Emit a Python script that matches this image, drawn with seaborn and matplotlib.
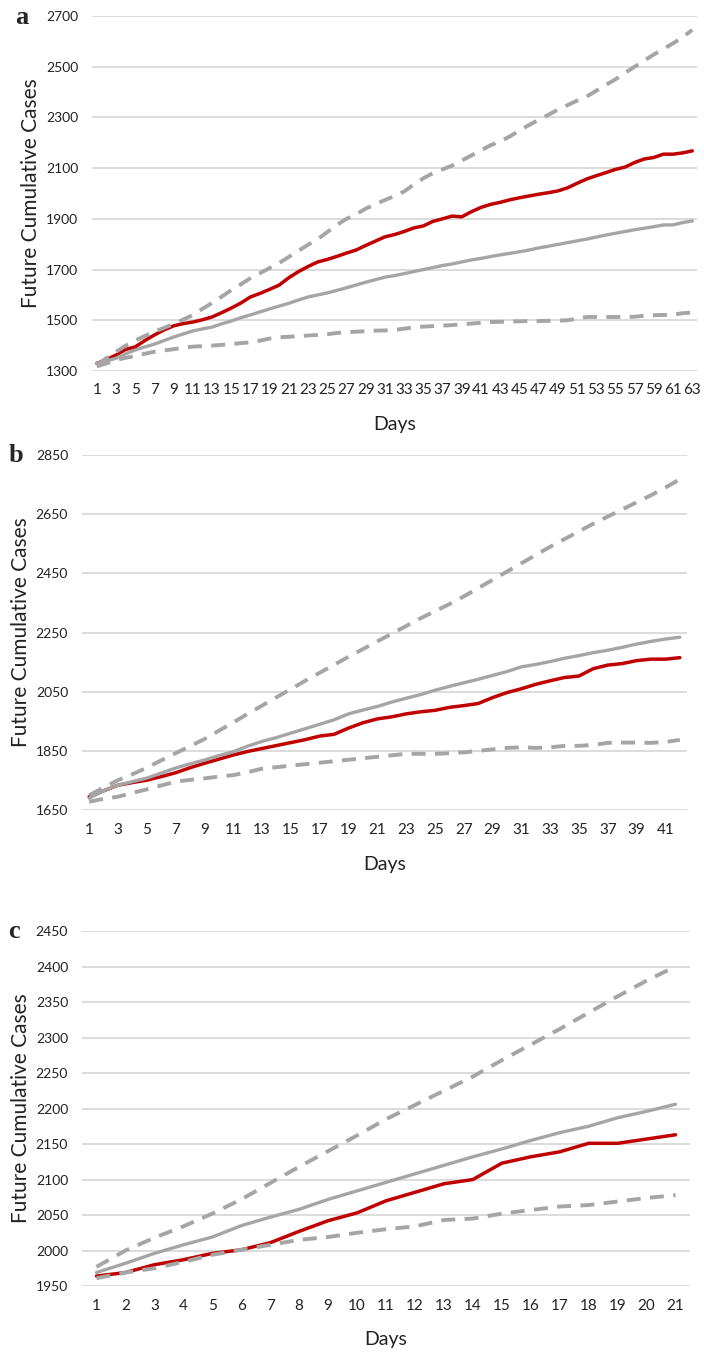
"""Future cumulative cases: observed vs forecast with prediction bounds (panels a-c)."""

import matplotlib
matplotlib.use("Agg")
import matplotlib.pyplot as plt
import seaborn as sns

# ---------------- data ----------------
DAYS_A = list(range(1, 64))
RED_A = [1330, 1345, 1363, 1385, 1395, 1420, 1442, 1462, 1478, 1487, 1493, 1502, 1513, 1530, 1548,
         1568, 1592, 1606, 1622, 1639, 1668, 1692, 1712, 1730, 1740, 1752, 1765, 1777, 1795, 1812,
         1829, 1838, 1850, 1864, 1872, 1890, 1900, 1911, 1908, 1928, 1945, 1957, 1965, 1975, 1983,
         1990, 1997, 2003, 2010, 2022, 2040, 2057, 2070, 2082, 2095, 2104, 2122, 2136, 2142, 2155,
         2155, 2160, 2168]
MID_A = [1330, 1340, 1350, 1368, 1383, 1395, 1406, 1420, 1434, 1446, 1458, 1466, 1473, 1486, 1497,
         1510, 1521, 1533, 1545, 1556, 1567, 1580, 1592, 1600, 1608, 1618, 1628, 1639, 1650, 1660,
         1670, 1676, 1684, 1692, 1700, 1708, 1716, 1722, 1730, 1738, 1744, 1751, 1758, 1764, 1770,
         1777, 1785, 1792, 1799, 1806, 1813, 1820, 1828, 1836, 1843, 1850, 1857, 1863, 1869, 1876,
         1876, 1885, 1892]
UP_A = [1325, 1350, 1376, 1400, 1420, 1438, 1455, 1470, 1485, 1503, 1521, 1545, 1568, 1593, 1619,
        1642, 1666, 1686, 1706, 1726, 1750, 1774, 1798, 1820, 1848, 1876, 1900, 1918, 1940, 1958,
        1974, 1990, 2008, 2035, 2060, 2080, 2095, 2110, 2130, 2150, 2170, 2190, 2205, 2225, 2248,
        2270, 2290, 2310, 2330, 2348, 2366, 2382, 2405, 2428, 2450, 2475, 2500, 2524, 2548, 2570,
        2592, 2616, 2645]
LOW_A = [1318, 1330, 1343, 1352, 1359, 1368, 1376, 1381, 1386, 1392, 1396, 1398, 1400, 1403, 1406,
         1410, 1413, 1420, 1428, 1433, 1435, 1437, 1440, 1442, 1445, 1450, 1453, 1455, 1457, 1459,
         1460, 1462, 1467, 1472, 1475, 1477, 1479, 1481, 1484, 1487, 1490, 1493, 1494, 1495, 1496,
         1497, 1497, 1498, 1499, 1500, 1506, 1513, 1513, 1513, 1513, 1513, 1514, 1518, 1520, 1521,
         1522, 1528, 1530]

DAYS_B = list(range(1, 43))
RED_B = [1695, 1715, 1734, 1743, 1751, 1763, 1776, 1793, 1808, 1822, 1836, 1848, 1858, 1868, 1878,
         1888, 1900, 1906, 1927, 1945, 1958, 1965, 1975, 1982, 1987, 1997, 2003, 2010, 2030, 2047,
         2060, 2075, 2087, 2098, 2103, 2128, 2140, 2145, 2155, 2160, 2160, 2165]
MID_B = [1690, 1715, 1734, 1746, 1758, 1775, 1792, 1806, 1819, 1834, 1847, 1866, 1882, 1895, 1910,
         1925, 1940, 1955, 1975, 1988, 2000, 2015, 2028, 2040, 2055, 2068, 2080, 2092, 2105, 2118,
         2134, 2142, 2152, 2163, 2172, 2182, 2190, 2200, 2211, 2220, 2228, 2234]
UP_B = [1700, 1726, 1751, 1771, 1793, 1818, 1842, 1866, 1890, 1918, 1946, 1975, 2003, 2031, 2059,
        2087, 2114, 2141, 2168, 2194, 2220, 2246, 2272, 2298, 2322, 2346, 2372, 2400, 2428, 2456,
        2484, 2512, 2540, 2566, 2592, 2618, 2642, 2666, 2690, 2714, 2740, 2768]
LOW_B = [1678, 1688, 1695, 1708, 1720, 1733, 1746, 1752, 1757, 1763, 1768, 1778, 1790, 1795, 1800,
         1805, 1810, 1815, 1820, 1825, 1830, 1835, 1840, 1840, 1840, 1842, 1845, 1850, 1855, 1860,
         1862, 1860, 1862, 1867, 1867, 1870, 1877, 1878, 1878, 1877, 1880, 1887]

DAYS_C = list(range(1, 22))
RED_C = [1964, 1969, 1980, 1987, 1996, 2001, 2011, 2027, 2042, 2053, 2070, 2082, 2094, 2100, 2123,
         2132, 2139, 2151, 2151, 2157, 2163]
MID_C = [1969, 1982, 1996, 2008, 2019, 2035, 2047, 2058, 2072, 2084, 2096, 2108, 2120, 2132, 2143,
         2155, 2166, 2175, 2187, 2196, 2206]
UP_C = [1977, 2000, 2018, 2034, 2052, 2072, 2095, 2118, 2140, 2162, 2185, 2205, 2225, 2245, 2268,
        2290, 2312, 2335, 2358, 2380, 2400]
LOW_C = [1961, 1969, 1975, 1984, 1994, 2001, 2008, 2015, 2019, 2025, 2030, 2034, 2043, 2045, 2052,
         2057, 2062, 2064, 2069, 2074, 2078]

PANELS = [
    ("a", DAYS_A, RED_A, MID_A, UP_A, LOW_A, (1300, 2700, 200), DAYS_A[::2]),
    ("b", DAYS_B, RED_B, MID_B, UP_B, LOW_B, (1650, 2850, 200), DAYS_B[::2]),
    ("c", DAYS_C, RED_C, MID_C, UP_C, LOW_C, (1950, 2450, 50), DAYS_C),
]

# axes rectangles in figure fractions (704 x 1353 px)
RECTS = [
    (0.1307, 0.7258, 0.8594, 0.2624),
    (0.1165, 0.4013, 0.8594, 0.2624),
    (0.1165, 0.0495, 0.8636, 0.2624),
]
LABEL_POS = [(22, 17), (16, 455), (14, 932)]
YLABEL_X = [31, 21, 21]

RED = "#c00000"
GRAY = "#a5a5a5"
GRID = "#d9d9d9"

sns.set_theme(style="white")
plt.rcParams["font.family"] = ["Lato", "DejaVu Sans"]

fig = plt.figure(figsize=(7.04, 13.53), dpi=100)

for (letter, days, red, mid, up, low, (ymin, ymax, step), ticks), rect, (lx, ly), yx in zip(
        PANELS, RECTS, LABEL_POS, YLABEL_X):
    ax = fig.add_axes(rect)
    sns.lineplot(x=days, y=red, ax=ax, color=RED, linewidth=2.5)
    sns.lineplot(x=days, y=mid, ax=ax, color=GRAY, linewidth=2.4)
    for series in (up, low):
        sns.lineplot(x=days, y=series, ax=ax, color=GRAY, linewidth=2.8,
                     linestyle=(0, (3.6, 2.4)))

    ax.set_xlim(0.5, len(days) + 0.5)
    ax.set_ylim(ymin, ymax)
    ax.set_yticks(range(ymin, ymax + 1, step))
    ax.set_xticks(ticks)
    ax.yaxis.grid(True, color=GRID, linewidth=1.3)
    ax.set_axisbelow(True)
    for sp in ax.spines.values():
        sp.set_visible(False)
    ax.tick_params(axis="y", length=0, pad=10, labelsize=10, labelcolor="#222222")
    ax.tick_params(axis="x", length=0, pad=9, labelsize=11, labelcolor="#222222")

    ax.set_xlabel("")
    ax.set_ylabel("")
    ax.text(0.5, -0.152, "Days", transform=ax.transAxes, ha="center", va="center",
            fontsize=14, color="#222222")
    fig.text(yx / 704, rect[1] + rect[3] / 2, "Future Cumulative Cases",
             rotation=90, ha="center", va="center", fontsize=15, color="#222222")
    fig.text(lx / 704, 1 - ly / 1353, letter, ha="center", va="center", fontsize=19,
             fontweight="bold", family=["Liberation Serif", "DejaVu Serif"])

fig.savefig("out.png", dpi=100)
